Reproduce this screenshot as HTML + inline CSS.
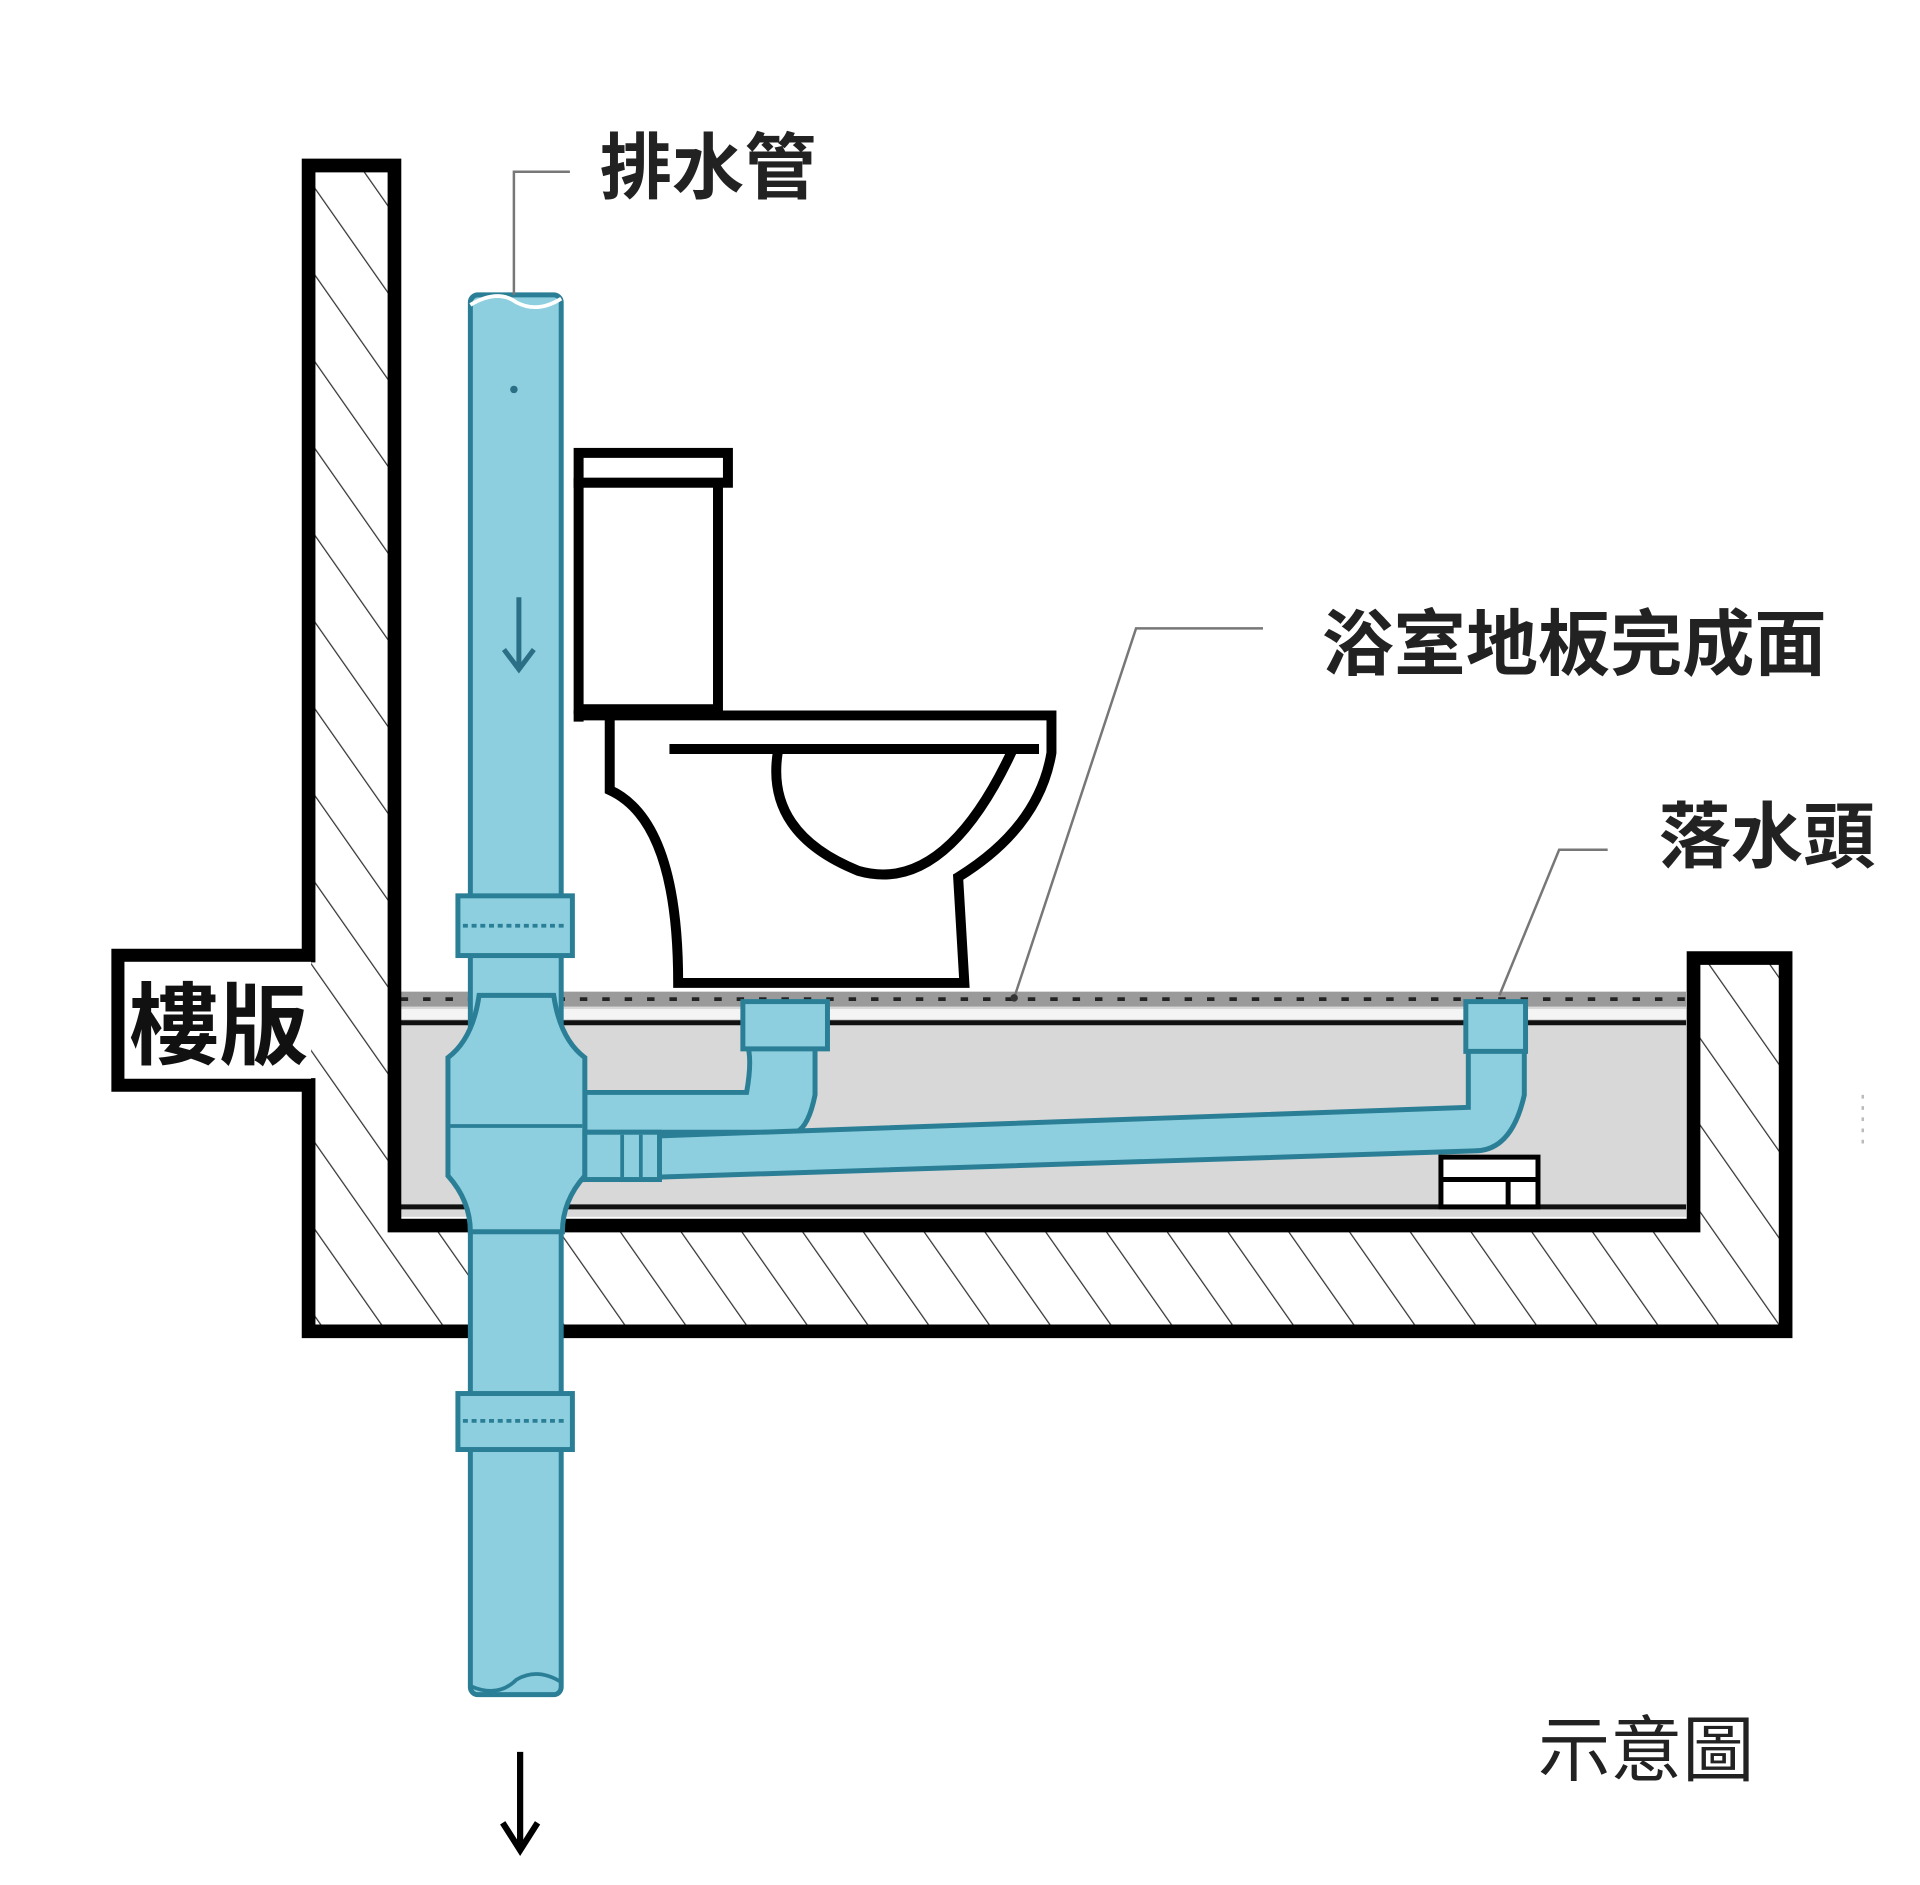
<!DOCTYPE html>
<html><head><meta charset="utf-8"><style>
html,body{margin:0;padding:0;background:#fff;width:1920px;height:1885px;overflow:hidden}
svg{display:block}
text{font-family:"Liberation Sans","Noto Sans CJK TC",sans-serif}
</style></head><body>
<svg width="1920" height="1885" viewBox="0 0 1543 1515" preserveAspectRatio="none" xmlns="http://www.w3.org/2000/svg">
<defs>
<pattern id="h" width="40" height="40" patternUnits="userSpaceOnUse" patternTransform="rotate(-35)">
<line x1="0" y1="0" x2="0" y2="40" stroke="#333" stroke-width="2"/>
</pattern>
</defs>
<path d="M248,133 L317,133 L317,985 L1361,985 L1361,770 L1435,770 L1435,1070 L248,1070 Z" fill="url(#h)"/>
<rect x="322" y="800" width="1033" height="178" fill="#d8d8d8"/>
<rect x="322" y="797" width="1033" height="12" fill="#9a9a9a"/>
<line x1="322" y1="803" x2="1355" y2="803" stroke="#222" stroke-width="3" stroke-dasharray="6,12"/>
<rect x="322" y="811" width="1033" height="8" fill="#f4f4f4"/>
<line x1="322" y1="822" x2="1355" y2="822" stroke="#111" stroke-width="4"/>
<line x1="322" y1="970" x2="1355" y2="970" stroke="#111" stroke-width="4"/>
<path d="M248,133 L317,133 L317,985 L1361,985 L1361,770 L1435,770 L1435,1070 L248,1070 L248,872 L95,872 L95,768 L248,768 Z" fill="none" stroke="#000" stroke-width="11" stroke-linejoin="miter"/>
<rect x="100" y="773" width="150" height="94" fill="#fff"/>
<text x="104" y="850" font-size="72" font-weight="bold" fill="#111">樓版</text>
<g fill="#fff" stroke="#000" stroke-width="8">
<rect x="465" y="364" width="120" height="24"/>
<rect x="465" y="388" width="112" height="182"/>
<path d="M490,578 L490,635 Q545,660 545,790 L775,790 L770,705 Q835,665 845,605 L845,575 L465,575 L465,580"/>
<path d="M625,605 Q615,670 690,700 Q760,720 815,600"/>
<line x1="538" y1="602" x2="835" y2="602"/>
</g>
<g fill="#8dcfdf" stroke="#2a7f96" stroke-width="4">
<rect x="378" y="237" width="73" height="1125" rx="6"/>
<path d="M470,878 L600,878 Q605,850 600,838 L655,838 L655,880 Q650,905 640,910 L470,910 Z"/>
<path d="M470,915 L1180,890 L1180,810 L1225,810 L1225,880 Q1215,925 1185,925 L470,948 Z"/>
<rect x="597" y="805" width="68" height="38"/>
<rect x="1178" y="805" width="48" height="40"/>
<path d="M360,850 Q380,835 385,800 L445,800 Q450,835 470,850 L470,945 Q452,965 452,990 L378,990 Q378,965 360,945 Z"/>
<rect x="368" y="720" width="92" height="48"/>
<rect x="368" y="1120" width="92" height="45"/>
<rect x="470" y="910" width="60" height="38"/>
</g>
<g stroke="#2a7f96" stroke-width="3">
<line x1="372" y1="744" x2="456" y2="744" stroke-dasharray="4,3"/>
<line x1="372" y1="1142" x2="456" y2="1142" stroke-dasharray="4,3"/>
<line x1="362" y1="905" x2="468" y2="905"/>
<line x1="500" y1="912" x2="500" y2="946"/>
<line x1="515" y1="912" x2="515" y2="946"/>
</g>
<path d="M378,245 Q400,232 415,243 Q432,252 451,240" fill="none" stroke="#fff" stroke-width="3"/>
<path d="M378,1355 Q400,1365 415,1350 Q432,1340 451,1352" fill="none" stroke="#2a7f96" stroke-width="3"/>
<g fill="#fff" stroke="#000" stroke-width="4">
<rect x="1158" y="930" width="78" height="40"/>
<line x1="1158" y1="948" x2="1236" y2="948"/>
<line x1="1212" y1="948" x2="1212" y2="970"/>
</g>
<g stroke="#2a6f86" stroke-width="4" fill="none">
<line x1="417" y1="480" x2="417" y2="538"/>
<path d="M405,522 L417,538 L429,522"/>
</g>
<circle cx="413" cy="313" r="3" fill="#2a6f86"/>
<g stroke="#000" stroke-width="5" fill="none">
<line x1="418" y1="1408" x2="418" y2="1485"/>
<path d="M404,1465 L418,1487 L432,1465"/>
</g>
<g stroke="#777" stroke-width="2" fill="none">
<path d="M413,237 L413,138 L458,138"/>
<path d="M815,802 L913,505 L1015,505"/>
<path d="M1205,800 L1253,683 L1292,683"/>
</g>
<circle cx="815" cy="802" r="3" fill="#333"/>
<line x1="1497" y1="880" x2="1497" y2="920" stroke="#bbb" stroke-width="2" stroke-dasharray="3,6"/>
<g fill="#222" font-size="58" font-weight="bold">
<text x="482" y="155">排水管</text>
<text x="1062" y="538">浴室地板完成面</text>
<text x="1333" y="693">落水頭</text>
</g>
<text x="1236" y="1427" font-size="58" fill="#222">示意圖</text>
</svg>
</body></html>
